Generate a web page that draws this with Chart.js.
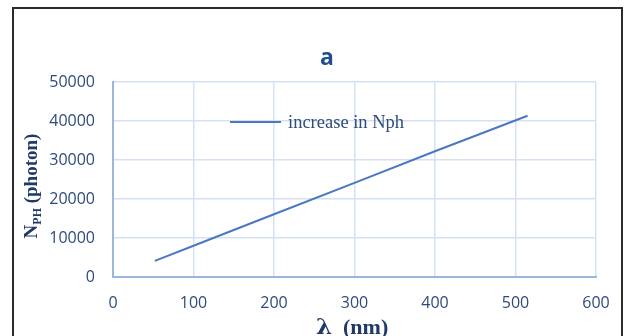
<!DOCTYPE html>
<html>
<head>
<meta charset="utf-8">
<script src="https://cdn.jsdelivr.net/npm/chart.js@4/dist/chart.umd.min.js"></script>
<style>
html,body{margin:0;padding:0;background:#fff;}
#wrap{position:relative;width:627px;height:336px;}
</style>
</head>
<body>
<div id="wrap"><canvas id="c" width="627" height="336"></canvas></div>
<script>
const wavelengths = [52, 100, 200, 300, 400, 515];
const photonCounts = [4150, 8000, 16100, 24150, 32250, 41350];
const xTicks = [0, 100, 200, 300, 400, 500, 600];
const yTicks = [0, 10000, 20000, 30000, 40000, 50000];
const seriesName = 'increase in Nph';
const chartTitle = 'a';

const tickColor = '#2F4B7C';
const lineColor = '#4A78C2';

const decor = {
  id: 'decor',
  beforeDraw(chart) {
    const ctx = chart.ctx;
    ctx.save();
    ctx.fillStyle = '#fff';
    ctx.fillRect(0, 0, chart.width, chart.height);
    ctx.strokeStyle = '#2b2b2b';
    ctx.lineWidth = 2;
    ctx.strokeRect(13, 8, 609, 340);
    ctx.restore();
  },
  afterDraw(chart) {
    const ctx = chart.ctx;
    ctx.save();
    // title
    ctx.fillStyle = '#1F4E8C';
    ctx.font = 'bold 23px "Open Sans", sans-serif';
    ctx.textAlign = 'center';
    ctx.textBaseline = 'middle';
    ctx.fillText(chartTitle, 327, 58);
    // legend
    ctx.strokeStyle = lineColor;
    ctx.lineWidth = 2;
    ctx.beginPath();
    ctx.moveTo(230, 122); ctx.lineTo(281, 122); ctx.stroke();
    ctx.fillStyle = tickColor;
    ctx.font = '18.5px "Liberation Serif", serif';
    ctx.textAlign = 'left';
    ctx.fillText(seriesName, 288, 123);
    // x title
    ctx.fillStyle = '#1F3A68';
    ctx.textBaseline = 'alphabetic';
    ctx.font = 'bold 23px "DejaVu Serif", serif';
    ctx.fillText('λ', 316, 334);
    ctx.font = 'bold 22px "Liberation Serif", serif';
    ctx.fillText('(nm)', 343, 334);
    // y title rotated
    ctx.translate(37, 186);
    ctx.rotate(-Math.PI / 2);
    const big = 'bold 19px "Liberation Serif", serif';
    const small = 'bold 12px "Liberation Serif", serif';
    const t1 = 'N', t2 = 'PH', t3 = ' (photon)';
    ctx.font = big;
    const w1 = ctx.measureText(t1).width;
    const w3 = ctx.measureText(t3).width;
    ctx.font = small;
    const w2 = ctx.measureText(t2).width;
    let x0 = -(w1 + w2 + w3) / 2;
    ctx.font = big;
    ctx.fillText(t1, x0, 0);
    ctx.font = small;
    ctx.fillText(t2, x0 + w1, 4);
    ctx.font = big;
    ctx.fillText(t3, x0 + w1 + w2, 0);
    ctx.restore();
  }
};

new Chart(document.getElementById('c'), {
  type: 'line',
  data: {
    datasets: [{
      label: seriesName,
      data: wavelengths.map((x, i) => ({x, y: photonCounts[i]})),
      borderColor: lineColor,
      borderWidth: 2,
      pointRadius: 0,
      fill: false,
      tension: 0
    }]
  },
  options: {
    responsive: false,
    animation: false,
    devicePixelRatio: 1,
    layout: {padding: {left: 0, right: 31, top: 82, bottom: 0}},
    plugins: {legend: {display: false}, title: {display: false}, tooltip: {enabled: false}},
    scales: {
      x: {
        type: 'linear', min: 0, max: 600,
        afterBuildTicks(s) { s.ticks = xTicks.map(v => ({value: v})); },
        afterFit(s) { s.height = 59; },
        grid: {
          color: ctx => ctx.tick && ctx.tick.value === 0 ? '#9CB6DE' : '#D5E1F2',
          lineWidth: ctx => ctx.tick && ctx.tick.value === 0 ? 2 : 1.5,
          drawTicks: false
        },
        border: {display: true, color: '#9CB6DE', width: 2},
        ticks: {color: tickColor, font: {family: '"Open Sans", sans-serif', size: 16}, padding: 17, maxRotation: 0,
          callback: v => String(v)}
      },
      y: {
        type: 'linear', min: 0, max: 50000,
        afterBuildTicks(s) { s.ticks = yTicks.map(v => ({value: v})); },
        afterFit(s) { s.width = 113; },
        grid: {
          color: ctx => ctx.tick && ctx.tick.value === 0 ? '#9CB6DE' : '#D5E1F2',
          lineWidth: ctx => ctx.tick && ctx.tick.value === 0 ? 2 : 1.5,
          drawTicks: false
        },
        border: {display: true, color: '#9CB6DE', width: 2},
        ticks: {color: tickColor, font: {family: '"Open Sans", sans-serif', size: 16}, padding: 18,
          callback: v => String(v)}
      }
    }
  },
  plugins: [decor]
});
</script>
</body>
</html>
